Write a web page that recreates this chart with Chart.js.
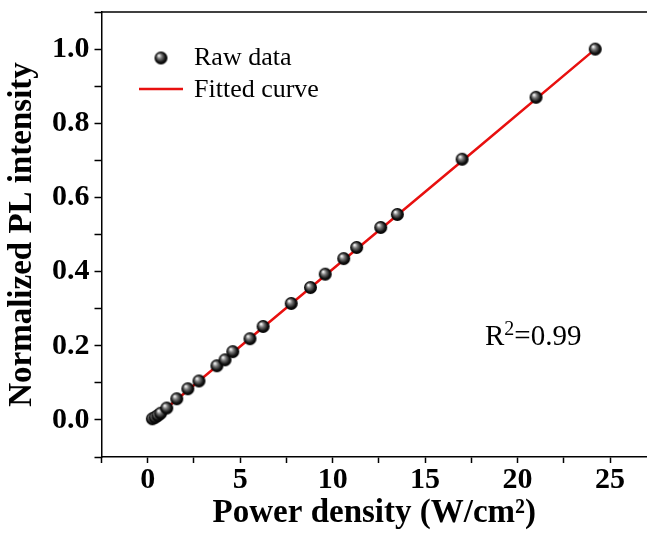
<!DOCTYPE html>
<html>
<head>
<meta charset="utf-8">
<script src="https://cdn.jsdelivr.net/npm/chart.js@4.4.1/dist/chart.umd.min.js"></script>
<style>
  html, body { margin: 0; padding: 0; background: #fff; }
  #wrap { width: 647px; height: 535px; }
</style>
</head>
<body>
<div id="wrap"><canvas id="js-pl-chart" width="647" height="535"></canvas></div>
<script>
// Raw data
const powerDensity = [0.25, 0.4, 0.55, 0.7, 1.03, 1.57, 2.17, 2.77, 3.74, 4.18, 4.6, 5.53, 6.24, 7.76, 8.8, 9.6, 10.6, 11.3, 12.6, 13.5, 17.0, 21.0, 24.2];
const plIntensity = [0.003, 0.007, 0.012, 0.018, 0.032, 0.057, 0.084, 0.105, 0.146, 0.162, 0.184, 0.219, 0.252, 0.314, 0.357, 0.393, 0.435, 0.465, 0.519, 0.554, 0.703, 0.870, 1.0];

// Fitted curve
const fitX = [0.25, 6, 12, 18, 24.2];
const fitY = [0.0, 0.24, 0.49, 0.74, 1.0];

// Axis ticks
const xTickLabels = [0, 5, 10, 15, 20, 25];
const yTickLabels = [0.0, 0.2, 0.4, 0.6, 0.8, 1.0];

const rawLabel = 'Raw data';
const fitLabel = 'Fitted curve';

Chart.defaults.font.family = "'Liberation Serif', 'Times New Roman', serif";
Chart.defaults.color = '#000';

// Little shaded sphere for the raw points
function makeBall(r) {
  const c = document.createElement('canvas');
  c.width = c.height = r * 2 + 2;
  const g = c.getContext('2d');
  const cx = r + 1, cy = r + 1;
  const grad = g.createRadialGradient(cx - r * 0.35, cy - r * 0.4, 0.3, cx, cy, r);
  grad.addColorStop(0, '#ffffff');
  grad.addColorStop(0.35, '#777');
  grad.addColorStop(0.75, '#111');
  grad.addColorStop(1, '#000');
  g.fillStyle = grad;
  g.beginPath();
  g.arc(cx, cy, r, 0, Math.PI * 2);
  g.fill();
  return c;
}
const ball = makeBall(6.5);

// top frame line, legend and R² note
const extras = {
  id: 'extras',
  afterDraw(chart) {
    const { ctx, chartArea } = chart;
    ctx.save();
    ctx.strokeStyle = '#000';
    ctx.lineWidth = 1.5;
    ctx.beginPath();
    ctx.moveTo(chartArea.left, chartArea.top);
    ctx.lineTo(chartArea.right, chartArea.top);
    ctx.stroke();

    // legend
    ctx.font = "26px 'Liberation Serif'";
    ctx.textBaseline = 'middle';
    ctx.fillStyle = '#000';
    ctx.drawImage(ball, 161 - ball.width / 2, 58 - ball.height / 2);
    ctx.fillText(rawLabel, 194, 58);
    ctx.strokeStyle = '#e8100f';
    ctx.lineWidth = 2.5;
    ctx.beginPath();
    ctx.moveTo(139, 89);
    ctx.lineTo(183, 89);
    ctx.stroke();
    ctx.fillText(fitLabel, 194, 90);

    // R^2 note
    ctx.textBaseline = 'alphabetic';
    let x = 485;
    ctx.font = "29px 'Liberation Serif'";
    ctx.fillText('R', x, 345);
    x += ctx.measureText('R').width;
    ctx.font = "20px 'Liberation Serif'";
    ctx.fillText('2', x, 335);
    x += ctx.measureText('2').width;
    ctx.font = "29px 'Liberation Serif'";
    ctx.fillText('=0.99', x, 345);
    ctx.restore();
  }
};

const plChart = new Chart(document.getElementById('js-pl-chart').getContext('2d'), {
  type: 'scatter',
  data: {
    datasets: [
      {
        label: fitLabel,
        type: 'line',
        data: fitX.map((x, i) => ({ x: x, y: fitY[i] })),
        borderColor: '#e8100f',
        borderWidth: 2.5,
        pointRadius: 0,
        tension: 0,
        fill: false,
        order: 2,
      },
      {
        label: rawLabel,
        data: powerDensity.map((x, i) => ({ x: x, y: plIntensity[i] })),
        pointStyle: ball,
        pointRadius: 6.5,
        order: 1,
      },
    ],
  },
  options: {
    responsive: false,
    animation: false,
    layout: { autoPadding: false, padding: { top: 12, right: 0, left: 2, bottom: 5 } },
    plugins: { legend: { display: false }, tooltip: { enabled: false } },
    scales: {
      x: {
        type: 'linear',
        min: -2.5,
        max: 27,
        afterFit: (scale) => { scale.paddingRight = 0; scale.paddingLeft = 0; },
        border: { color: '#000', width: 1.5 },
        grid: { drawOnChartArea: false, tickLength: 6, tickColor: '#000', tickWidth: 1.5 },
        ticks: {
          stepSize: 2.5,
          includeBounds: false,
          maxRotation: 0,
          autoSkip: false,
          padding: 2,
          font: { size: 30, weight: 'bold', lineHeight: 1 },
          callback: (v) => (xTickLabels.includes(v) ? String(v) : ''),
        },
        title: {
          display: true,
          text: 'Power density (W/cm²)',
          font: { size: 33, weight: 'bold', lineHeight: 1 },
          padding: { top: 0, bottom: 0 },
        },
      },
      y: {
        min: -0.1,
        max: 1.1,
        afterFit: (scale) => { scale.paddingTop = 0; scale.paddingBottom = 0; },
        border: { color: '#000', width: 1.5 },
        grid: { drawOnChartArea: false, tickLength: 7, tickColor: '#000', tickWidth: 1.5 },
        ticks: {
          stepSize: 0.1,
          autoSkip: false,
          padding: 5,
          font: { size: 30, weight: 'bold' },
          callback: (v) => {
            const hit = yTickLabels.find((t) => Math.abs(t - v) < 1e-6);
            return hit === undefined ? '' : hit.toFixed(1);
          },
        },
        title: {
          display: true,
          text: 'Normalized PL intensity',
          font: { size: 33, weight: 'bold', lineHeight: 1 },
          padding: { top: 4, bottom: 8 },
        },
      },
    },
  },
  plugins: [extras],
});
</script>
</body>
</html>
